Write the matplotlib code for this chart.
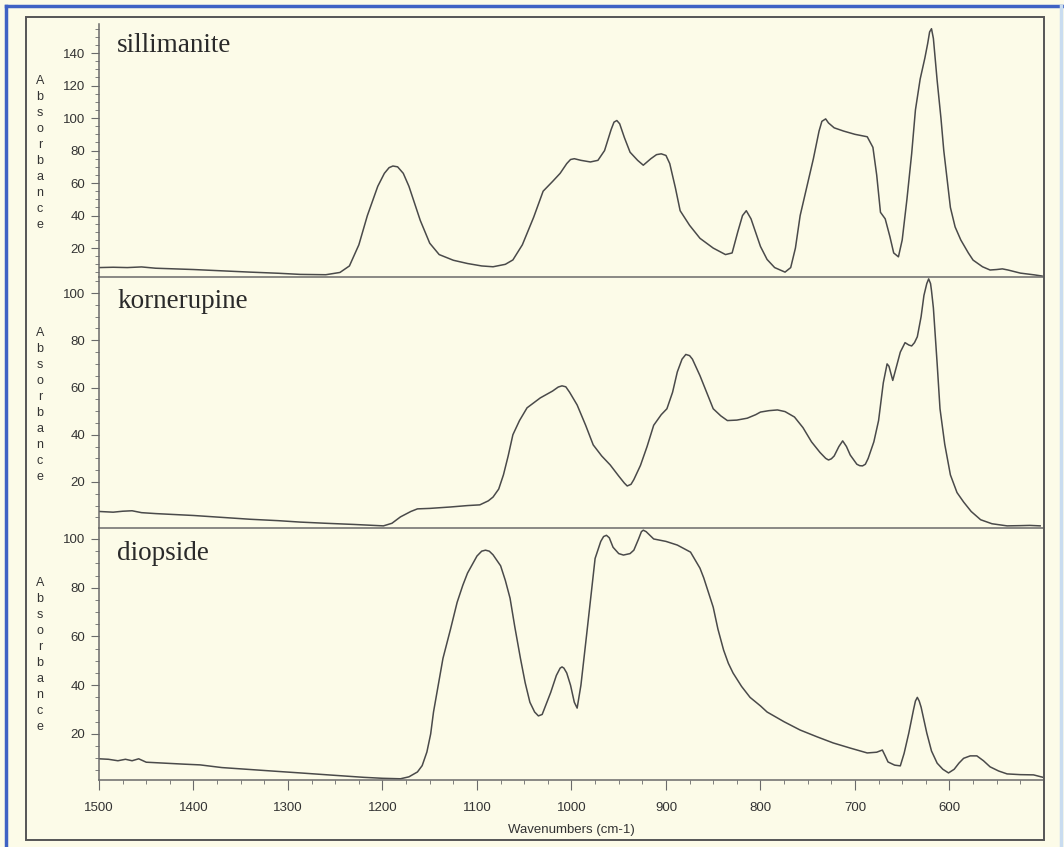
import matplotlib
matplotlib.use("Agg")
import matplotlib.pyplot as plt
from matplotlib.lines import Line2D
from matplotlib.patches import Rectangle
from matplotlib.ticker import MultipleLocator

# spectra: wavenumber (cm-1) and absorbance
sill_wn = [1500, 1485, 1470, 1455, 1440, 1420, 1400, 1370, 1340, 1310, 1287, 1260, 1245, 1235,
           1225, 1216, 1205, 1198, 1193, 1189, 1184, 1178, 1172, 1160, 1150, 1140, 1125, 1110,
           1095, 1083, 1070, 1062, 1052, 1040, 1030, 1020, 1012, 1005, 1001, 997, 990, 980, 972,
           965, 958, 955, 952, 949, 944, 938, 930, 924, 916, 910, 905, 900, 896, 890, 885, 875,
           864, 850, 837, 830, 824, 819, 815, 810, 800, 793, 785, 774, 768, 763, 758, 750, 744,
           738, 735, 731, 728, 722, 712, 700, 687, 681, 677, 673, 668, 663, 659, 654, 650, 645,
           640, 636, 631, 626, 623, 621, 619, 617, 613, 609, 606, 602, 599, 594, 588, 580, 575,
           565, 557, 550, 544, 538, 525, 510, 502]
sill_abs = [8.0, 8.2, 8.0, 8.4, 7.6, 7.2, 6.8, 6.0, 5.2, 4.5, 3.8, 3.6, 5.0, 9,
            22, 40, 58, 66, 69.5, 70.5, 70, 66, 58, 37, 23, 16, 12.5, 10.5,
            9, 8.5, 10, 12.7, 22, 39, 55, 61, 66, 72, 74.5, 75, 74, 73, 74,
            80, 93, 97.5, 98.5, 96.5, 88, 79, 74, 71, 75, 77.5, 78, 77, 72, 57, 43, 34,
            26, 20, 16, 17, 30, 40, 43, 38, 21, 13, 8, 5.2, 8, 20, 40, 60, 75,
            92, 98, 99.5, 97, 94, 92, 90, 88.5, 82, 65, 42, 38, 27, 17, 14.6, 25, 50,
            78, 105, 124, 137, 146, 153, 155, 149, 123, 100, 80, 60, 45, 33, 25, 17, 12.6,
            8.5, 6.5, 6.8, 7.2, 6.5, 4.6, 3.5, 2.8]

korn_wn = [1500, 1485, 1475, 1465, 1455, 1440, 1420, 1400, 1370, 1340, 1310, 1287, 1260, 1230,
           1199, 1190, 1181, 1170, 1163, 1150, 1128, 1110, 1097, 1088, 1083, 1077, 1072, 1067,
           1062, 1055, 1047, 1040, 1033, 1020, 1014, 1010, 1006, 1002, 994, 985, 977, 968, 959,
           950, 944, 941, 937, 934, 927, 920, 913, 905, 899, 893, 888, 883, 879, 875, 872, 864,
           857, 850, 842, 835, 825, 814, 805, 800, 791, 782, 774, 764, 755, 746, 737, 731, 728,
           725, 722, 717, 713, 709, 705, 698, 695, 692, 689, 686, 680, 675, 670, 666, 664, 660,
           656, 652, 647, 643, 640, 637, 634, 630, 627, 624, 622, 620, 619, 617, 613, 610, 605,
           599, 592, 585, 577, 567, 555, 539, 525, 515, 504]
korn_abs = [7.5, 7.2, 7.6, 7.8, 7.0, 6.6, 6.2, 5.8, 5.0, 4.2, 3.6, 3.0, 2.5, 2.0,
            1.4, 2.5, 5.2, 7.5, 8.6, 8.8, 9.4, 10.0, 10.3, 12, 13.6, 17, 23, 31,
            40, 46, 51.4, 53.5, 55.6, 58.5, 60.2, 60.7, 60.3, 58, 52.6, 44, 35.7, 31, 27.2,
            22.5, 19.5, 18.3, 19, 21, 27, 35, 44, 48.5, 51, 58, 66.6, 72, 74, 73.5, 72, 65,
            58, 51, 48, 46, 46.2, 47, 48.5, 49.6, 50.2, 50.5, 49.8, 47.5, 43, 37, 32.5, 30, 29.3,
            29.8, 31, 35, 37.4, 35, 31.4, 27.5, 26.9, 26.8, 27.5, 30, 37, 46, 62, 70, 69, 63,
            69, 75, 79, 78, 77.6, 79, 81.5, 90, 99, 104, 106, 104, 101, 93.7, 70, 51, 36,
            23, 15.5, 11.5, 7.5, 4.0, 2.3, 1.4, 1.5, 1.6, 1.4]

diop_wn = [1500, 1490, 1480, 1472, 1465, 1458, 1450, 1430, 1410, 1393, 1370, 1340, 1310, 1287,
           1250, 1220, 1200, 1181, 1172, 1163, 1158, 1153, 1149, 1146, 1141, 1136, 1128, 1121,
           1115, 1110, 1100, 1095, 1091, 1087, 1083, 1075, 1070, 1065, 1060, 1054, 1049, 1044,
           1039, 1035, 1031, 1029, 1022, 1016, 1012, 1010, 1008, 1005, 1001, 997, 994, 990, 984,
           979, 975, 969, 966, 963, 960, 956, 950, 945, 938, 934, 929, 926, 924, 921, 913, 900,
           888, 874, 864, 860, 855, 850, 845, 839, 834, 829, 820, 811, 800, 793, 775, 758, 740,
           723, 705, 687, 677, 671, 668, 665, 658, 652, 648, 643, 638, 636, 634, 632, 630, 624,
           619, 613, 607, 601, 595, 590, 585, 578, 571, 564, 557, 548, 539, 525, 511, 501]
diop_abs = [9.8, 9.6, 9.0, 9.6, 9.0, 9.8, 8.4, 8.0, 7.6, 7.3, 6.2, 5.4, 4.6, 4.0,
            3.0, 2.2, 1.8, 1.6, 2.4, 4.4, 7, 12.6, 20, 29, 40, 51, 63, 74,
            81, 86, 93, 95, 95.4, 95, 93.5, 89, 83, 75.7, 64, 51, 41, 33,
            29, 27.4, 28, 30, 37, 44, 47, 47.5, 47, 45, 40, 33, 30.6, 40, 60.6,
            78, 92, 99, 101, 101.5, 100.5, 96.6, 94, 93.4, 94, 95.4, 100, 103, 103.6, 103, 100, 99,
            97.5, 94.6, 88, 84, 78, 72, 63, 54.4, 49, 45, 39.5, 35, 31.5, 29, 25, 21.6, 18.8,
            16.3, 14.2, 12.2, 12.5, 13.4, 11, 8.5, 7.2, 6.9, 12, 20.4, 30, 33.5, 35, 33.5, 31, 20.4,
            13, 8, 5.5, 4, 5.5, 8, 10, 11, 11, 9, 6.5, 4.8, 3.6, 3.3, 3.2, 2.2]

names = ["sillimanite", "kornerupine", "diopside"]
x_ticks = [1500, 1400, 1300, 1200, 1100, 1000, 900, 800, 700, 600]
y_ticks_top = [20, 40, 60, 80, 100, 120, 140]
y_ticks_low = [20, 40, 60, 80, 100]

W, H = 1064, 847
bg = "#fcfbe8"
line_c = "#4a4a4a"
axis_c = "#6a6a6a"
text_c = "#333333"

fig = plt.figure(figsize=(W / 100, H / 100), dpi=100)
fig.patch.set_facecolor(bg)

def px_box(left, top, right, bottom):
    return [left / W, 1 - bottom / H, (right - left) / W, (bottom - top) / H]

# panel boxes in pixels and their y ranges
boxes = [(99, 24, 1043, 277), (99, 277, 1043, 528), (99, 528, 1043, 780)]
ylims = [(2.2, 157.9), (0.5, 106.8), (1.1, 104.5)]
series = [(sill_wn, sill_abs), (korn_wn, korn_abs), (diop_wn, diop_abs)]
yticks = [y_ticks_top, y_ticks_low, y_ticks_low]
title_base = [52, 308, 560]
label_top = [75, 327, 577]

for i in range(3):
    ax = fig.add_axes(px_box(*boxes[i]))
    ax.patch.set_alpha(0)
    wn, ab = series[i]
    ax.plot(wn, ab, color=line_c, lw=1.1)
    ax.set_xlim(1500, 501)
    ax.set_ylim(*ylims[i])
    for s in ["top", "right"]:
        ax.spines[s].set_visible(False)
    for s in ["left", "bottom"]:
        ax.spines[s].set_color(axis_c)
        ax.spines[s].set_linewidth(1.1)
    ax.set_yticks(yticks[i])
    ax.yaxis.set_minor_locator(MultipleLocator(5))
    ax.tick_params(axis="y", which="major", direction="out", length=6, width=0.8,
                   color=axis_c, labelsize=9.5, labelcolor=text_c, pad=4)
    ax.tick_params(axis="y", which="minor", direction="out", length=3, width=0.6, color=axis_c)
    for lab in ax.get_yticklabels():
        lab.set_fontfamily("Liberation Sans")
    if i < 2:
        ax.set_xticks([])
        ax.tick_params(axis="x", which="both", length=0)
    else:
        ax.set_xticks(x_ticks)
        ax.xaxis.set_minor_locator(MultipleLocator(25))
        ax.tick_params(axis="x", which="major", direction="out", length=7, width=0.8,
                       color=axis_c, labelsize=9.5, labelcolor=text_c, pad=9)
        ax.tick_params(axis="x", which="minor", direction="out", length=3, width=0.6, color=axis_c)
        for lab in ax.get_xticklabels():
            lab.set_fontfamily("Liberation Sans")

    fig.text(117 / W, 1 - title_base[i] / H, names[i], fontsize=19.5,
             family="Liberation Serif", color="#2a2a2a", va="baseline", ha="left")
    fig.text(40 / W, 1 - label_top[i] / H, "\n".join("Absorbance"), fontsize=9,
             family="Liberation Sans", color=text_c, va="top", ha="center", linespacing=1.45)

fig.text(571 / W, 1 - 830 / H, "Wavenumbers (cm-1)", fontsize=9.5,
         family="Liberation Sans", color=text_c, va="center", ha="center")

# inner frame round the whole chart
fig.add_artist(Rectangle((26 / W, 1 - 840 / H), (1044 - 26) / W, (840 - 17) / H,
                         transform=fig.transFigure, fill=False, edgecolor="#555555", lw=1.4))
# window border of the screenshot
fig.add_artist(Line2D([6 / W, 6 / W], [0, 1 - 6 / H], transform=fig.transFigure,
                      color="#3f62c4", lw=2.5))
fig.add_artist(Line2D([6 / W, 1], [1 - 6 / H, 1 - 6 / H], transform=fig.transFigure,
                      color="#3f62c4", lw=2.5))
fig.add_artist(Line2D([1061 / W, 1061 / W], [0, 1 - 6 / H], transform=fig.transFigure,
                      color="#c9dcf0", lw=2.5))

fig.savefig("out.png", dpi=100, facecolor=bg)
